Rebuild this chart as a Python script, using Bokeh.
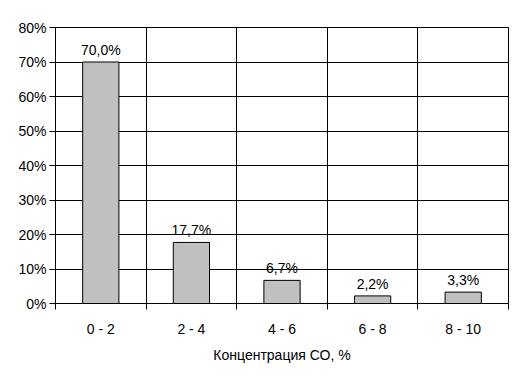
from bokeh.plotting import figure
from bokeh.models import FixedTicker, ColumnDataSource, Range1d
from bokeh.core.properties import value
from bokeh.embed import file_html
from bokeh.resources import INLINE

categories = ["0 - 2", "2 - 4", "4 - 6", "6 - 8", "8 - 10"]
values = [70.0, 17.7, 6.7, 2.2, 3.3]
y_ticks = [0, 10, 20, 30, 40, 50, 60, 70, 80]

n = len(categories)
xs = [i + 0.5 for i in range(n)]
labels = [f"{v:.1f}".replace(".", ",") + "%" for v in values]
src = ColumnDataSource(dict(x=xs, top=values, lab=labels))

FONT = "Liberation Sans"
FS = "14px"

p = figure(width=524, height=376, output_backend="svg", toolbar_location=None,
           x_range=Range1d(0, n), y_range=Range1d(0, 80),
           min_border_left=55, min_border_right=16, min_border_top=27, min_border_bottom=73)
p.background_fill_color = "white"
p.border_fill_color = "white"
p.outline_line_color = "black"
p.outline_line_width = 1

p.vbar(x="x", top="top", width=0.4, bottom=0, source=src,
       fill_color="#c0c0c0", line_color="black", line_width=1)
p.text(x="x", y="top", text="lab", source=src, text_align="center",
       text_baseline="bottom", y_offset=-4, text_font=value(FONT),
       text_font_size=FS, text_color="black")

# x axis
p.xaxis.ticker = FixedTicker(ticks=xs, minor_ticks=list(range(n + 1)))
p.xaxis.major_label_overrides = {x: c for x, c in zip(xs, categories)}
p.xaxis.major_tick_out = 0
p.xaxis.major_tick_in = 0
p.xaxis.minor_tick_out = 6
p.xaxis.minor_tick_in = 0
p.xaxis.minor_tick_line_color = "black"
p.xaxis.axis_label = "Концентрация СО, %"
p.xaxis.axis_label_text_font_style = "normal"
p.xaxis.axis_label_text_font = FONT
p.xaxis.axis_label_text_font_size = FS
p.xaxis.major_label_standoff = 11
p.xaxis.axis_label_standoff = 7

# y axis
p.yaxis.ticker = FixedTicker(ticks=y_ticks, minor_ticks=[])
p.yaxis.major_label_overrides = {t: f"{t}%" for t in y_ticks}
p.yaxis.major_tick_out = 6
p.yaxis.major_tick_in = 0
p.yaxis.major_label_standoff = 3

for ax in [p.xaxis, p.yaxis]:
    ax.axis_line_color = "black"
    ax.major_tick_line_color = "black"
    ax.major_label_text_font = FONT
    ax.major_label_text_font_size = FS
    ax.major_label_text_color = "black"
    ax.axis_label_text_color = "black"

p.xgrid.ticker = FixedTicker(ticks=list(range(n + 1)))
p.ygrid.ticker = FixedTicker(ticks=y_ticks)
for g in [p.xgrid, p.ygrid]:
    g.grid_line_color = "black"
    g.grid_line_width = 1
    g.grid_line_alpha = 1.0

open("out.html", "w").write(file_html(p, INLINE))
